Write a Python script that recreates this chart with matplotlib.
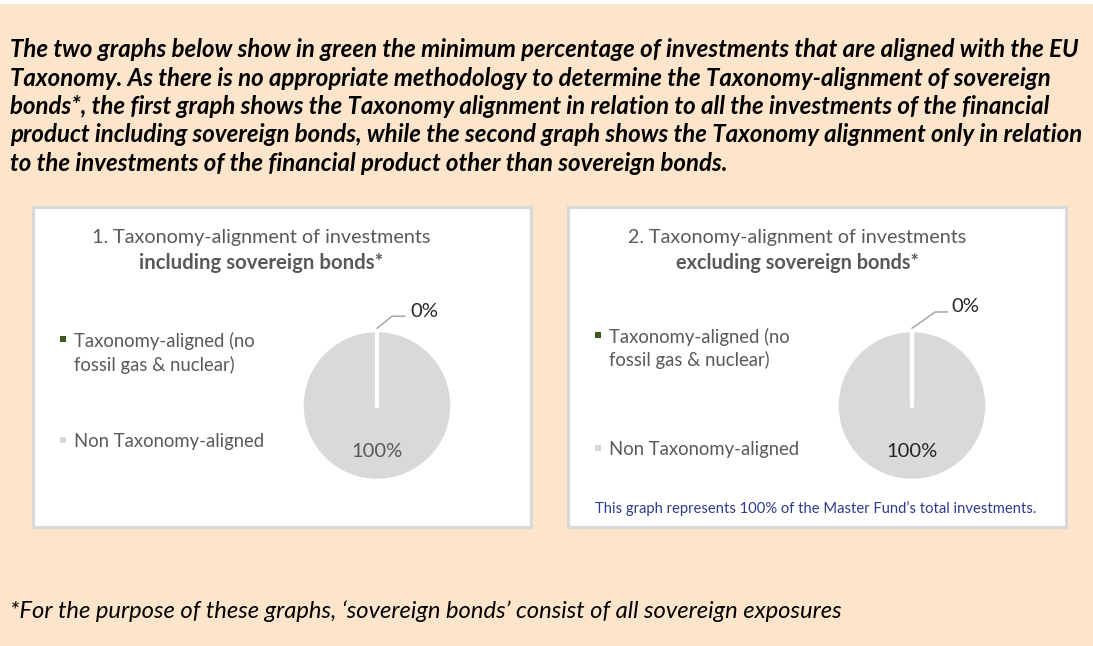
import matplotlib
matplotlib.use("Agg")
import numpy as np
import matplotlib.pyplot as plt
from matplotlib.patches import Rectangle

# ---------------- data ----------------
categories = ["Taxonomy-aligned (no\nfossil gas & nuclear)", "Non Taxonomy-aligned"]
values_incl = [0, 100]
values_excl = [0, 100]
titles_line1 = ["1. Taxonomy-alignment of investments", "2. Taxonomy-alignment of investments"]
titles_line2 = ["including sovereign bonds*", "excluding sovereign bonds*"]
intro_lines = [
    "The two graphs below show in green the minimum percentage of investments that are aligned with the EU",
    "Taxonomy. As there is no appropriate methodology to determine the Taxonomy-alignment of sovereign",
    "bonds*, the first graph shows the Taxonomy alignment in relation to all the investments of the financial",
    "product including sovereign bonds, while the second graph shows the Taxonomy alignment only in relation",
    "to the investments of the financial product other than sovereign bonds.",
]
footnote = "*For the purpose of these graphs, \u2018sovereign bonds\u2019 consist of all sovereign exposures"
panel_note = "This graph represents 100% of the Master Fund\u2019s total investments."

# ---------------- style ----------------
W, H = 1093, 646
BG = "#FDE5CB"
GREEN = "#3E5A1F"
GRAY = "#D9D9D9"
TXT = "#595959"
FONT = "Lato"
START_ANGLE = 90

fig = plt.figure(figsize=(W / 100, H / 100), dpi=100)
fig.patch.set_facecolor(BG)
renderer = fig.canvas.get_renderer()


def fx(x):
    return x / W


def fy(y):
    return 1 - y / H


def fit_text(x, y, s, width, ha="left", **kw):
    t = fig.text(fx(x), fy(y), s, ha=ha, va="baseline", fontsize=12, family=FONT, **kw)
    w = t.get_window_extent(renderer).width
    t.set_fontsize(12 * width / w)
    return t


# white strip at top
fig.patches.append(Rectangle((0, fy(4)), 1, 4 / H, transform=fig.transFigure,
                             facecolor="white", edgecolor="none"))

# intro text (bold italic) - common size fitted on first line
t0 = fit_text(10, 57, intro_lines[0], 1064, fontweight="bold", fontstyle="italic", color="black")
fs_intro = t0.get_fontsize()
for i, line in enumerate(intro_lines[1:], start=1):
    fig.text(fx(10), fy(57 + 28.5 * i), line, ha="left", va="baseline", fontsize=fs_intro,
             family=FONT, fontweight="bold", fontstyle="italic", color="black")

# footnote
fit_text(10, 618, footnote, 830, fontstyle="italic", color="black")

# panels
panels = [
    dict(box=(33, 207, 531, 527), values=values_incl, center=(377, 405.5), title_cx=261,
         leg_x=63, leg_y=(347, 371, 447), zero_pts=[(0, 1.03), (0.2, 1.19), (0.37, 1.19)],
         zero_txt=(0.45, 1.18), hundred_col="#595959"),
    dict(box=(568, 207, 1066, 527), values=values_excl, center=(912, 405.5), title_cx=797,
         leg_x=598, leg_y=(343, 366, 455), zero_pts=[(0, 1.03), (0.31, 1.247), (0.47, 1.247)],
         zero_txt=(0.52, 1.25), hundred_col="#262626"),
]

R = 75  # pie radius in px
LIM = 2.0
for k, p in enumerate(panels):
    x0, y0, x1, y1 = p["box"]
    pax = fig.add_axes([fx(x0), fy(y1), (x1 - x0) / W, (y1 - y0) / H])
    pax.set_facecolor("white")
    pax.set_xticks([]); pax.set_yticks([])
    for sp in pax.spines.values():
        sp.set_color(GRAY)
        sp.set_linewidth(2.2)

    # titles
    fit_text(p["title_cx"], 243, titles_line1[k], 337, ha="center", color=TXT)
    fit_text(p["title_cx"], 269, titles_line2[k], 242, ha="center", color=TXT, fontweight="bold")

    # legend
    lx = p["leg_x"]
    ly1, ly2, ly3 = p["leg_y"]
    for (yy, col) in [(ly1 - 8, GREEN), (ly3 - 7, GRAY)]:
        fig.patches.append(Rectangle((fx(lx - 3), fy(yy + 3)), 6 / W, 6 / H,
                                     transform=fig.transFigure, facecolor=col, edgecolor="none"))
    l1, l2 = categories[0].split("\n")
    tl = fit_text(lx + 11, ly1, l1, 181, color=TXT)
    fs_leg = tl.get_fontsize()
    fig.text(fx(lx + 11), fy(ly2), l2, ha="left", va="baseline", fontsize=fs_leg, family=FONT, color=TXT)
    fig.text(fx(lx + 11), fy(ly3), categories[1], ha="left", va="baseline", fontsize=fs_leg,
             family=FONT, color=TXT)

    # pie
    cx, cy = p["center"]
    size = 2 * LIM * R
    ax = fig.add_axes([fx(cx - size / 2), fy(cy + size / 2), size / W, size / H])
    ax.axis("off")
    wedges, _ = ax.pie(p["values"], colors=[GREEN, GRAY], startangle=START_ANGLE,
                       counterclock=False, radius=1,
                       wedgeprops=dict(edgecolor="white", linewidth=2.5))
    ax.set_xlim(-LIM, LIM); ax.set_ylim(-LIM, LIM)
    ax.set_aspect("equal")
    # slice boundaries (white separators), computed from the values
    total = sum(p["values"])
    cum = 0
    for v in p["values"]:
        ang = np.deg2rad(START_ANGLE - 360 * cum / total)
        ax.plot([0, np.cos(ang)], [0, np.sin(ang)], color="white", lw=3, solid_capstyle="round",
                zorder=5)
        cum += v

    # labels
    xs = [q[0] for q in p["zero_pts"]]
    ys = [q[1] for q in p["zero_pts"]]
    ax.plot(xs, ys, color="#A6A6A6", lw=1.1, clip_on=False)
    tz = ax.text(p["zero_txt"][0], p["zero_txt"][1], f"{p['values'][0]}%", ha="left", va="baseline",
                 fontsize=12, family=FONT, color="#262626")
    w = tz.get_window_extent(renderer).width
    tz.set_fontsize(12 * 28 / w)
    th = ax.text(0, (cy - 457) / R, f"{p['values'][1]}%", ha="center", va="baseline",
                 fontsize=12, family=FONT, color=p["hundred_col"])
    w = th.get_window_extent(renderer).width
    th.set_fontsize(12 * 51 / w)

# panel 2 note
fit_text(595, 513, panel_note, 438, color="#2E3A8C")

fig.savefig("out.png", dpi=100, facecolor=BG)
